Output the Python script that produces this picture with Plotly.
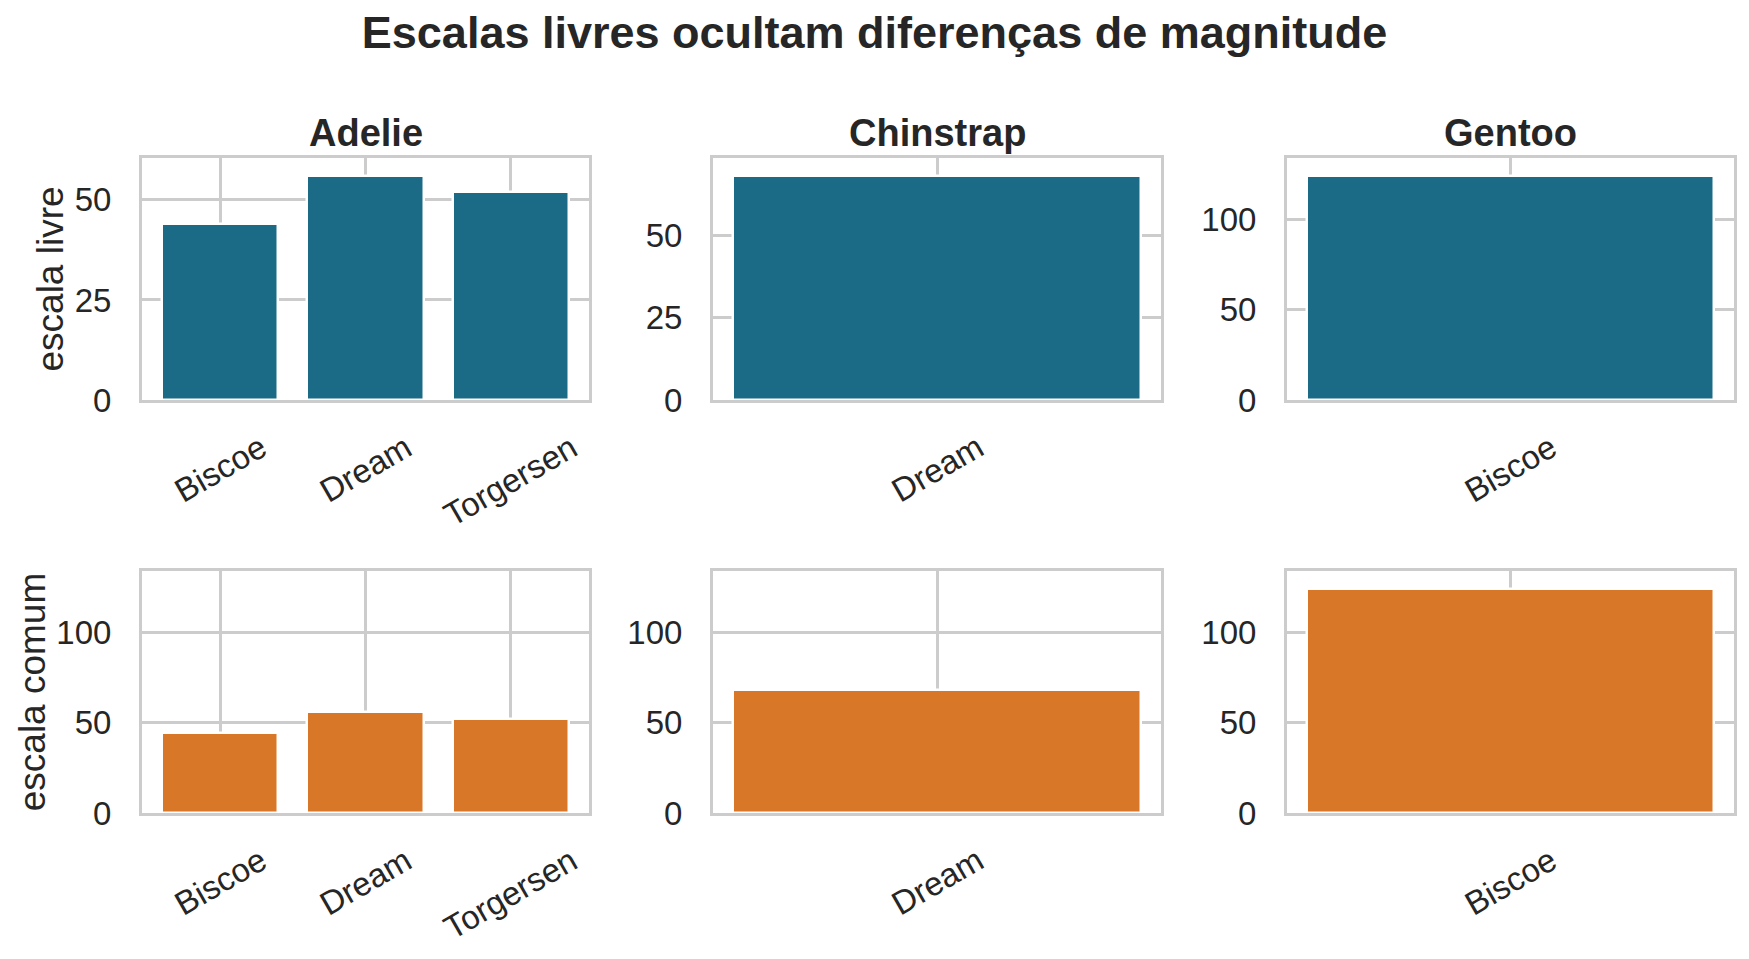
import plotly.graph_objects as go

# penguin counts per island, by species
adelie_islands = ["Biscoe", "Dream", "Torgersen"]
adelie_counts = [44, 56, 52]
chinstrap_islands = ["Dream"]
chinstrap_counts = [68]
gentoo_islands = ["Biscoe"]
gentoo_counts = [124]

species = ["Adelie", "Chinstrap", "Gentoo"]
row_labels = ["escala livre", "escala comum"]
free_ticks = [[0, 25, 50], [0, 25, 50], [0, 50, 100]]
common_ticks = [0, 50, 100]

BLUE = "#1b6b87"
ORANGE = "#d97728"
GRID = "#cccccc"
TXT = "#262626"
FONT = "Liberation Sans, Arial, sans-serif"

W, H = 1749, 959
OFF = 8  # page body margin
cols_px = [(142, 589), (713, 1161), (1287, 1734)]
rows_px = [(158, 400), (571, 813)]

panels = [(adelie_islands, adelie_counts),
          (chinstrap_islands, chinstrap_counts),
          (gentoo_islands, gentoo_counts)]
common_max = max(max(c) for _, c in panels) * 1.08

fig = go.Figure()
annotations = []
layout = {}

for r in range(2):
    for c in range(3):
        idx = r * 3 + c + 1
        sfx = "" if idx == 1 else str(idx)
        cats, vals = panels[c]
        fig.add_trace(go.Bar(
            x=cats, y=vals, width=0.8,
            marker=dict(color=BLUE if r == 0 else ORANGE,
                        line=dict(color="white", width=2.5)),
            xaxis="x" + sfx, yaxis="y" + sfx, showlegend=False,
        ))
        n = len(cats)
        pad = 0.05 * (n - 0.2)
        x0, x1 = [v - OFF for v in cols_px[c]]
        y0, y1 = [v - OFF for v in rows_px[r]]
        layout["xaxis" + sfx] = dict(
            domain=[x0 / W, x1 / W], anchor="y" + sfx,
            type="category", range=[-0.4 - pad, n - 0.6 + pad],
            showgrid=True, gridcolor=GRID, gridwidth=2.5,
            showline=True, mirror=True, linecolor=GRID, linewidth=3,
            showticklabels=False, ticks="", zeroline=False,
        )
        top = max(vals) * 1.08 if r == 0 else common_max
        layout["yaxis" + sfx] = dict(
            domain=[1 - y1 / H, 1 - y0 / H], anchor="x" + sfx,
            range=[0, top],
            tickvals=free_ticks[c] if r == 0 else common_ticks,
            showgrid=True, gridcolor=GRID, gridwidth=2.5,
            showline=True, mirror=True, linecolor=GRID, linewidth=3,
            ticks="", zeroline=False, ticklabelstandoff=21,
            tickfont=dict(size=33, color=TXT, family=FONT),
            automargin=False,
        )
        if c == 0:
            layout["yaxis" + sfx]["title"] = dict(
                text=row_labels[r], standoff=0,
                font=dict(size=37, color=TXT, family=FONT))
        # rotated category labels, centred under each bar
        for cat in cats:
            annotations.append(dict(
                x=cat, y=0, xref="x" + sfx, yref="y" + sfx + " domain",
                text=cat, textangle=-30, showarrow=False,
                xanchor="center", yanchor="top", yshift=-25,
                font=dict(size=33, color=TXT, family=FONT),
            ))
        if r == 0:
            annotations.append(dict(
                x=(x0 + x1) / 2 / W, y=1 - y0 / H, xref="paper", yref="paper",
                text="<b>" + species[c] + "</b>", showarrow=False,
                xanchor="center", yanchor="bottom", yshift=2,
                font=dict(size=38, color=TXT, family=FONT),
            ))

fig.update_layout(
    **layout,
    annotations=annotations,
    width=W, height=H,
    margin=dict(l=0, r=0, t=0, b=0),
    paper_bgcolor="white", plot_bgcolor="white",
    bargap=0,
    title=dict(text="<b>Escalas livres ocultam diferenças de magnitude</b>",
               x=(W / 2 - OFF) / W, xanchor="center", y=1 - 8 / H, yanchor="top",
               font=dict(size=45, color=TXT, family=FONT)),
)

fig.write_html("out.html")
